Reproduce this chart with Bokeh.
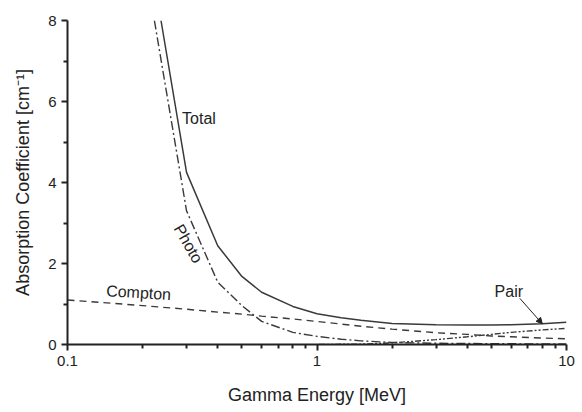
from bokeh.embed import file_html
from bokeh.models import Arrow, FixedTicker, Label, NormalHead, Range1d
from bokeh.plotting import figure
from bokeh.resources import INLINE

# energies in MeV, absorption coefficient in 1/cm
total_e = [0.237, 0.3, 0.4, 0.5, 0.6, 0.8, 1.0, 1.25, 1.5, 2.0, 3.0, 4.0, 5.0, 6.0, 8.0, 10.0]
total_mu = [8.0, 4.25, 2.44, 1.68, 1.29, 0.94, 0.76, 0.66, 0.60, 0.52, 0.49, 0.48, 0.48, 0.49, 0.51, 0.55]

photo_e = [0.223, 0.3, 0.4, 0.5, 0.6, 0.8, 1.0, 1.25, 1.5, 2.0, 3.0, 5.0, 10.0]
photo_mu = [8.0, 3.3, 1.54, 0.96, 0.57, 0.30, 0.20, 0.13, 0.09, 0.05, 0.03, 0.02, 0.01]

compton_e = [0.1, 0.15, 0.2, 0.3, 0.4, 0.5, 0.6, 0.8, 1.0, 1.5, 2.0, 3.0, 4.0, 5.0, 6.0, 8.0, 10.0]
compton_mu = [1.10, 1.02, 0.96, 0.87, 0.80, 0.75, 0.70, 0.63, 0.57, 0.45, 0.38, 0.29, 0.25, 0.21, 0.19, 0.16, 0.14]

pair_e = [1.02, 1.5, 2.0, 3.0, 4.0, 5.0, 6.0, 8.0, 10.0]
pair_mu = [0.0, 0.01, 0.04, 0.12, 0.19, 0.25, 0.30, 0.36, 0.40]

x_major = [0.1, 1, 10]
x_major_labels = ["0.1", "1", "10"]
x_minor = [0.2, 0.3, 0.4, 0.5, 0.6, 0.7, 0.8, 0.9, 2, 3, 4, 5, 6, 7, 8, 9]
y_major = [0, 2, 4, 6, 8]
y_minor = [1, 3, 5, 7]

FONT = "Liberation Sans"
INK = "#222222"
LINE = "#3a3a3a"

p = figure(width=582, height=412, x_axis_type="log",
           x_range=Range1d(0.1, 10), y_range=Range1d(0, 8),
           output_backend="svg", toolbar_location=None, tools="",
           min_border_left=67, min_border_right=16, min_border_top=20, min_border_bottom=68)

p.outline_line_color = None
p.grid.grid_line_color = None
p.background_fill_color = "white"
p.border_fill_color = "white"

p.line(total_e, total_mu, line_color=LINE, line_width=1.5)
p.line(photo_e, photo_mu, line_color=LINE, line_width=1.4, line_dash="9 3 2 3")
p.line(compton_e, compton_mu, line_color=LINE, line_width=1.4, line_dash="7 5")
p.line(pair_e, pair_mu, line_color=LINE, line_width=1.4, line_dash="6 2 2 2 2 2")

p.xaxis.ticker = FixedTicker(ticks=x_major, minor_ticks=x_minor)
p.xaxis.major_label_overrides = dict(zip(x_major, x_major_labels))
p.yaxis.ticker = FixedTicker(ticks=y_major, minor_ticks=y_minor)

for ax in (p.xaxis, p.yaxis):
    ax.axis_line_width = 2
    ax.axis_line_color = INK
    ax.major_tick_line_width = 2
    ax.major_tick_line_color = INK
    ax.minor_tick_line_width = 2
    ax.minor_tick_line_color = INK
    ax.major_tick_in = 0
    ax.major_tick_out = 6
    ax.minor_tick_in = 0
    ax.minor_tick_out = 4
    ax.major_label_text_font = FONT
    ax.major_label_text_font_size = "15px"
    ax.major_label_text_color = INK
    ax.axis_label_text_font = FONT
    ax.axis_label_text_font_size = "18px"
    ax.axis_label_text_font_style = "normal"
    ax.axis_label_text_color = INK

p.xaxis.axis_label = "Gamma Energy [MeV]"
p.yaxis.axis_label = "Absorption Coefficient [cm\u207b\u00b9]"
p.xaxis.major_label_standoff = 5
p.yaxis.major_label_standoff = 5
p.xaxis.axis_label_standoff = 16
p.yaxis.axis_label_standoff = 12


def curve_label(text, x, y, angle=0.0, align="left"):
    p.add_layout(Label(x=x, y=y, text=text, angle=angle, text_align=align,
                       text_baseline="middle", text_font=FONT,
                       text_font_size="16px", text_color=INK))


curve_label("Total", 0.288, 5.59)
curve_label("Photo", 0.305, 2.49, angle=-1.05, align="center")
curve_label("Compton", 0.143, 1.33, angle=-0.06)
curve_label("Pair", 5.15, 1.31)

p.add_layout(Arrow(x_start=6.5, y_start=1.14, x_end=8.0, y_end=0.51,
                   line_color=INK, line_width=1,
                   end=NormalHead(size=6, fill_color=INK, line_color=INK)))

open("out.html", "w").write(file_html(p, INLINE))
